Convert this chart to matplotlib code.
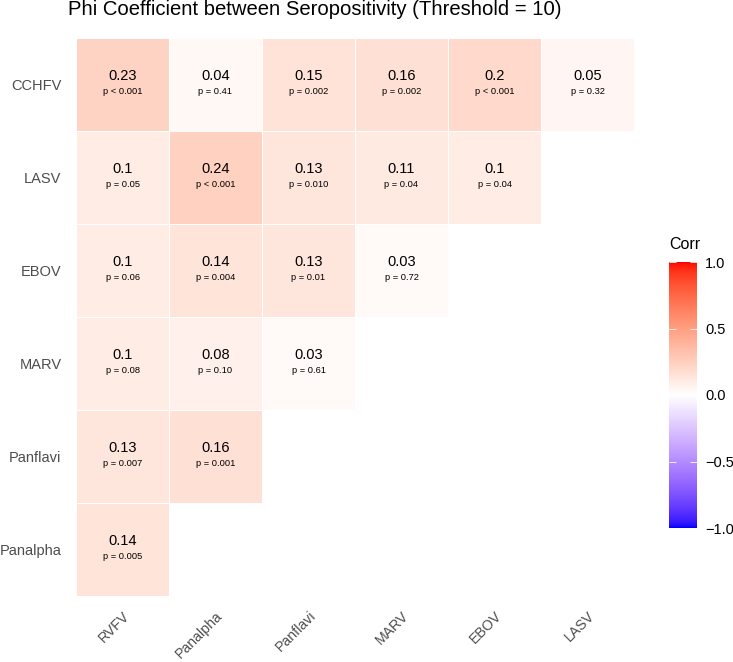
import numpy as np
import matplotlib
matplotlib.use('Agg')
import matplotlib.pyplot as plt
from matplotlib.colors import ListedColormap

plt.rcParams['font.family'] = ['Liberation Sans', 'DejaVu Sans']

# data
# ====

rows = ['CCHFV', 'LASV', 'EBOV', 'MARV', 'Panflavi', 'Panalpha']
cols = ['RVFV', 'Panalpha', 'Panflavi', 'MARV', 'EBOV', 'LASV']

cchfv = [0.23, 0.04, 0.15, 0.16, 0.2, 0.05]
lasv = [0.1, 0.24, 0.13, 0.11, 0.1]
ebov = [0.1, 0.14, 0.13, 0.03]
marv = [0.1, 0.08, 0.03]
panflavi = [0.13, 0.16]
panalpha = [0.14]

p_cchfv = ['p < 0.001', 'p = 0.41', 'p = 0.002', 'p = 0.002', 'p < 0.001', 'p = 0.32']
p_lasv = ['p = 0.05', 'p < 0.001', 'p = 0.010', 'p = 0.04', 'p = 0.04']
p_ebov = ['p = 0.06', 'p = 0.004', 'p = 0.01', 'p = 0.72']
p_marv = ['p = 0.08', 'p = 0.10', 'p = 0.61']
p_panflavi = ['p = 0.007', 'p = 0.001']
p_panalpha = ['p = 0.005']

values = [cchfv, lasv, ebov, marv, panflavi, panalpha]
pvals = [p_cchfv, p_lasv, p_ebov, p_marv, p_panflavi, p_panalpha]

n = len(rows)
mat = np.full((n, n), np.nan)
for i, r in enumerate(values):
    mat[i, :len(r)] = r
mat = np.ma.masked_invalid(mat)


# colour scale: blue - white - red, interpolated in CIELAB
# ========================================================

M = np.array([[0.4124, 0.3576, 0.1805],
              [0.2126, 0.7152, 0.0722],
              [0.0193, 0.1192, 0.9505]])
WP = np.array([0.95047, 1.0, 1.08883])


def to_lab(c):
    c = np.asarray(c, float)
    lin = np.where(c <= 0.04045, c/12.92, ((c + 0.055)/1.055)**2.4)
    xyz = M @ lin / WP
    f = np.where(xyz > (6/29)**3, np.cbrt(xyz), xyz/(3*(6/29)**2) + 4/29)
    return np.array([116*f[1] - 16, 500*(f[0] - f[1]), 200*(f[1] - f[2])])


def from_lab(lab):
    L, a, b = lab
    fy = (L + 16)/116
    f = np.array([fy + a/500, fy, fy - b/200])
    xyz = np.where(f > 6/29, f**3, 3*(6/29)**2*(f - 4/29))*WP
    lin = np.clip(np.linalg.solve(M, xyz), 0, 1)
    return np.where(lin <= 0.0031308, 12.92*lin, 1.055*lin**(1/2.4) - 0.055)


lab_w = to_lab([1, 1, 1])
lab_r = to_lab([1, 0, 0])
lab_b = to_lab([0, 0, 1])
colors = []
for t in np.linspace(-1, 1, 511):
    end = lab_b if t < 0 else lab_r
    colors.append(np.clip(from_lab(lab_w + abs(t)*(end - lab_w)), 0, 1))
cmap = ListedColormap(colors)


# figure
# ======

W, H = 733, 662
fig = plt.figure(figsize=(W/100, H/100), dpi=100)
ax = fig.add_axes([76/W, 1 - 596/H, 558/W, 558/H])

mesh = ax.pcolormesh(np.arange(n + 1), np.arange(n + 1), mat, cmap=cmap,
                     vmin=-1, vmax=1, edgecolors='white', linewidth=0.4)
ax.set_xlim(0, n)
ax.set_ylim(n, 0)

for i in range(n):
    for j, v in enumerate(values[i]):
        ax.text(j + 0.5, i + 0.45, '{:g}'.format(v), ha='center', va='baseline',
                fontsize=10.5, color='black')
        ax.text(j + 0.5, i + 0.605, pvals[i][j], ha='center', va='baseline',
                fontsize=6.7, color='black')

ax.set_xticks(np.arange(n) + 0.5)
ax.set_yticks(np.arange(n) + 0.5)
ax.set_xticklabels(cols, rotation=45, ha='right', va='top', rotation_mode='anchor')
ax.set_yticklabels(rows)
ax.tick_params(axis='both', length=0, labelsize=10.5, labelcolor='#4D4D4D')
ax.tick_params(axis='x', labelsize=10.2, pad=9)
ax.tick_params(axis='y', pad=10.5)
for s in ax.spines.values():
    s.set_visible(False)

fig.text(68/W, 1 - 15/H, 'Phi Coefficient between Seropositivity (Threshold = 10)',
         fontsize=14.6, ha='left', va='baseline', color='black')

# colourbar
cax = fig.add_axes([669/W, 1 - 528/H, 28/W, 266/H])
cb = fig.colorbar(mesh, cax=cax, ticks=[-1, -0.5, 0, 0.5, 1])
cb.outline.set_visible(False)
cb.ax.set_yticklabels(['\u22121.0', '\u22120.5', '0.0', '0.5', '1.0'])
cax.tick_params(axis='y', left=True, right=True, direction='in', length=5,
                color='white', width=0.6, labelsize=10.5, labelcolor='black', pad=6)
fig.text(669/W, 1 - 249/H, 'Corr', fontsize=11.5, ha='left', va='baseline')

fig.savefig('out.png', dpi=100)
